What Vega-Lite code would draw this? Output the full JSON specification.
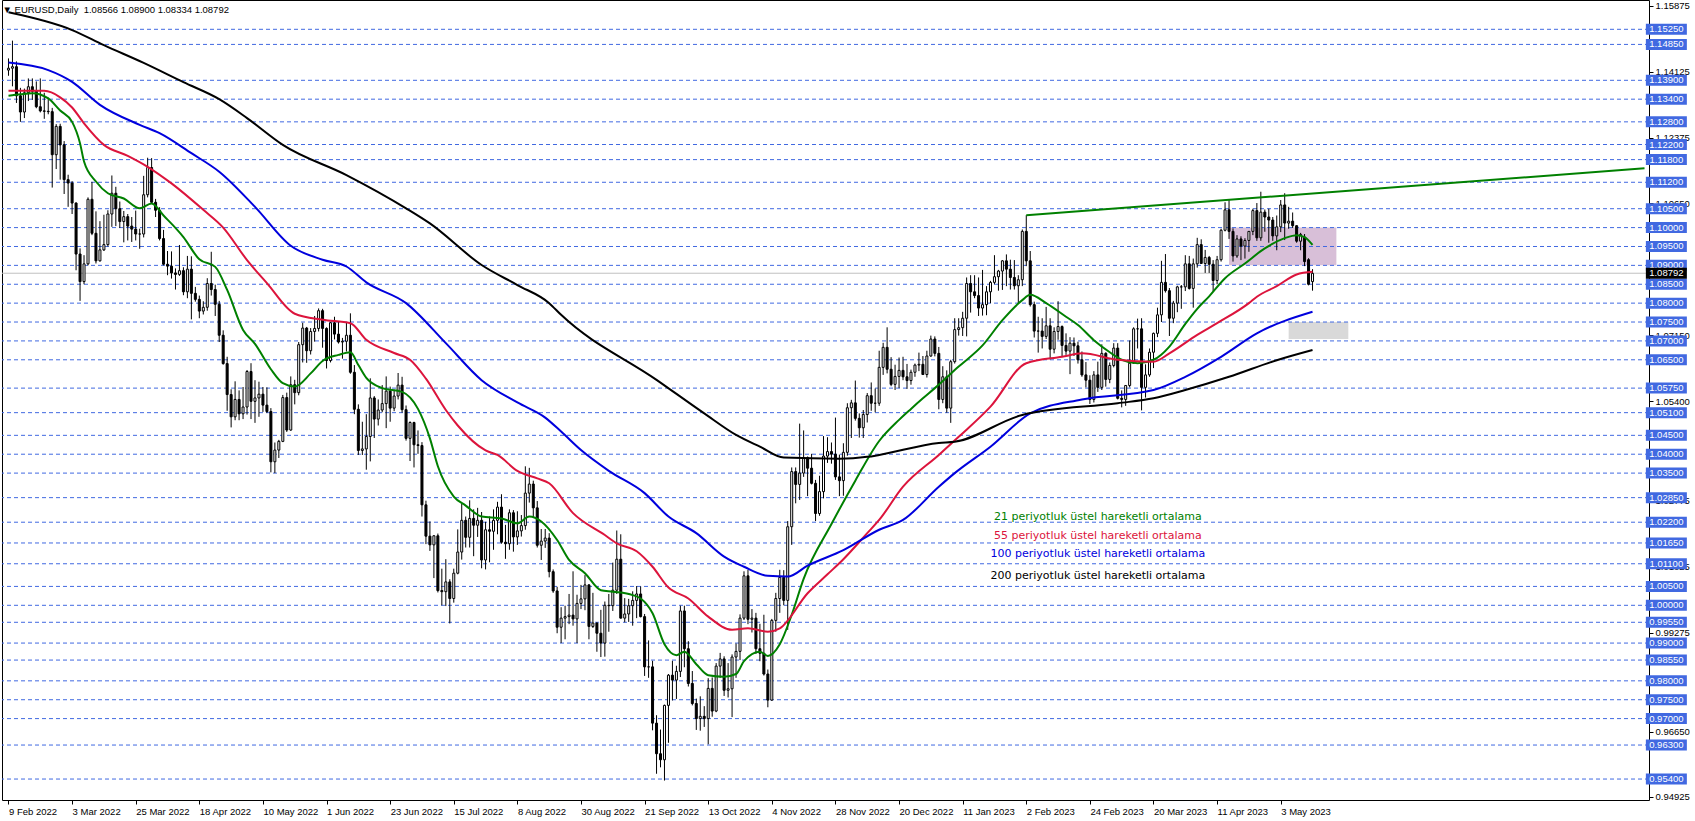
{
"$schema":"https://vega.github.io/schema/vega-lite/v6.json",
"width":1647,"height":800,"autosize":"none",
"padding":{"left":2,"top":0,"right":46,"bottom":21},
"background":"white",
"config":{"view":{"stroke":"#000000","strokeWidth":1},"font":"Liberation Sans"},
"title":{"text":"▼ EURUSD,Daily\u00a0\u00a01.08566 1.08900 1.08334 1.08792","anchor":"start","offset":-24,"dx":1,"fontSize":9.5,"font":"Liberation Sans","fontWeight":"normal","color":"#000000","baseline":"bottom"},
"datasets":{
"levels":[{"p":1.1525},{"p":1.1485},{"p":1.139},{"p":1.134},{"p":1.128},{"p":1.122},{"p":1.118},{"p":1.112},{"p":1.105},{"p":1.1},{"p":1.095},{"p":1.09},{"p":1.085},{"p":1.08},{"p":1.075},{"p":1.07},{"p":1.065},{"p":1.0575},{"p":1.051},{"p":1.045},{"p":1.04},{"p":1.035},{"p":1.0285},{"p":1.022},{"p":1.0165},{"p":1.011},{"p":1.005},{"p":1.0},{"p":0.9955},{"p":0.99},{"p":0.9855},{"p":0.98},{"p":0.975},{"p":0.97},{"p":0.963},{"p":0.954}],
"zones":[{"z":"pink","i1":307,"i2":334,"p1":1.09,"p2":1.1},{"z":"gray","i1":322,"i2":337,"p1":1.0705,"p2":1.075}],
"trend":[{"i":256,"p":1.1033},{"i":411.5,"p":1.1157}],
"notes":[{"s":"21","i":274,"p":1.02345,"t":"21 periyotluk üstel hareketli ortalama"},{"s":"55","i":274,"p":1.01843,"t":"55 periyotluk üstel hareketli ortalama"},{"s":"100","i":274,"p":1.0135,"t":"100 periyotluk üstel hareketli ortalama"},{"s":"200","i":274,"p":1.00768,"t":"200 periyotluk üstel hareketli ortalama"}],
"ema":[
{"s":"21","i":0,"v":1.1349},{"s":"21","i":3,"v":1.1353},{"s":"21","i":6,"v":1.1356},{"s":"21","i":10,"v":1.1342},{"s":"21","i":13,"v":1.131},{"s":"21","i":16,"v":1.128},{"s":"21","i":18,"v":1.1223},{"s":"21","i":19,"v":1.1175},{"s":"21","i":22,"v":1.1122},{"s":"21","i":25,"v":1.1091},{"s":"21","i":29,"v":1.1077},{"s":"21","i":33,"v":1.1051},{"s":"21","i":36,"v":1.1064},{"s":"21","i":39,"v":1.1032},{"s":"21","i":44,"v":1.0975},{"s":"21","i":48,"v":1.0916},{"s":"21","i":52,"v":1.0896},{"s":"21","i":55,"v":1.0835},{"s":"21","i":59,"v":1.0729},{"s":"21","i":62,"v":1.0692},{"s":"21","i":66,"v":1.0625},{"s":"21","i":69,"v":1.0588},{"s":"21","i":72,"v":1.0579},{"s":"21","i":76,"v":1.0614},{"s":"21","i":79,"v":1.0647},{"s":"21","i":83,"v":1.0663},{"s":"21","i":86,"v":1.067},{"s":"21","i":88,"v":1.0636},{"s":"21","i":90,"v":1.0602},{"s":"21","i":94,"v":1.0575},{"s":"21","i":99,"v":1.0565},{"s":"21","i":103,"v":1.052},{"s":"21","i":106,"v":1.0442},{"s":"21","i":108,"v":1.0368},{"s":"21","i":112,"v":1.0288},{"s":"21","i":115,"v":1.0264},{"s":"21","i":119,"v":1.0235},{"s":"21","i":124,"v":1.023},{"s":"21","i":128,"v":1.0217},{"s":"21","i":131,"v":1.0235},{"s":"21","i":134,"v":1.0222},{"s":"21","i":138,"v":1.0173},{"s":"21","i":141,"v":1.012},{"s":"21","i":145,"v":1.0085},{"s":"21","i":149,"v":1.004},{"s":"21","i":152,"v":1.0036},{"s":"21","i":157,"v":1.0027},{"s":"21","i":159,"v":1.0018},{"s":"21","i":162,"v":0.9979},{"s":"21","i":165,"v":0.9897},{"s":"21","i":168,"v":0.9868},{"s":"21","i":170,"v":0.9877},{"s":"21","i":173,"v":0.9844},{"s":"21","i":176,"v":0.9815},{"s":"21","i":180,"v":0.9811},{"s":"21","i":183,"v":0.9818},{"s":"21","i":185,"v":0.9852},{"s":"21","i":189,"v":0.9877},{"s":"21","i":191,"v":0.9866},{"s":"21","i":194,"v":0.9897},{"s":"21","i":197,"v":0.9975},{"s":"21","i":200,"v":1.007},{"s":"21","i":207,"v":1.0215},{"s":"21","i":213,"v":1.033},{"s":"21","i":219,"v":1.0435},{"s":"21","i":224,"v":1.0491},{"s":"21","i":227,"v":1.052},{"s":"21","i":230,"v":1.0548},{"s":"21","i":233,"v":1.0575},{"s":"21","i":239,"v":1.0632},{"s":"21","i":245,"v":1.0688},{"s":"21","i":250,"v":1.0755},{"s":"21","i":255,"v":1.0808},{"s":"21","i":257,"v":1.0822},{"s":"21","i":261,"v":1.08},{"s":"21","i":266,"v":1.0764},{"s":"21","i":269,"v":1.0742},{"s":"21","i":273,"v":1.0702},{"s":"21","i":277,"v":1.067},{"s":"21","i":280,"v":1.065},{"s":"21","i":284,"v":1.0641},{"s":"21","i":288,"v":1.065},{"s":"21","i":292,"v":1.0685},{"s":"21","i":296,"v":1.0745},{"s":"21","i":299,"v":1.0785},{"s":"21","i":302,"v":1.0818},{"s":"21","i":306,"v":1.0866},{"s":"21","i":311,"v":1.0905},{"s":"21","i":316,"v":1.0945},{"s":"21","i":321,"v":1.0972},{"s":"21","i":324,"v":1.098},{"s":"21","i":326,"v":1.0975},{"s":"21","i":328,"v":1.0954},
{"s":"55","i":0,"v":1.1362},{"s":"55","i":9,"v":1.1362},{"s":"55","i":13,"v":1.1345},{"s":"55","i":16,"v":1.1318},{"s":"55","i":19,"v":1.1276},{"s":"55","i":24,"v":1.1219},{"s":"55","i":30,"v":1.119},{"s":"55","i":35,"v":1.1161},{"s":"55","i":41,"v":1.1117},{"s":"55","i":49,"v":1.1047},{"s":"55","i":54,"v":1.1},{"s":"55","i":60,"v":1.0914},{"s":"55","i":65,"v":1.0853},{"s":"55","i":72,"v":1.0772},{"s":"55","i":79,"v":1.0756},{"s":"55","i":86,"v":1.0747},{"s":"55","i":90,"v":1.0703},{"s":"55","i":97,"v":1.0668},{"s":"55","i":101,"v":1.065},{"s":"55","i":105,"v":1.06},{"s":"55","i":110,"v":1.0517},{"s":"55","i":113,"v":1.0476},{"s":"55","i":120,"v":1.041},{"s":"55","i":123,"v":1.0398},{"s":"55","i":128,"v":1.0356},{"s":"55","i":133,"v":1.0336},{"s":"55","i":136,"v":1.0323},{"s":"55","i":142,"v":1.0244},{"s":"55","i":150,"v":1.0186},{"s":"55","i":153,"v":1.0164},{"s":"55","i":158,"v":1.0143},{"s":"55","i":162,"v":1.0102},{"s":"55","i":166,"v":1.0047},{"s":"55","i":171,"v":1.0018},{"s":"55","i":176,"v":0.997},{"s":"55","i":182,"v":0.9935},{"s":"55","i":186,"v":0.9939},{"s":"55","i":191,"v":0.993},{"s":"55","i":194,"v":0.9939},{"s":"55","i":201,"v":1.0032},{"s":"55","i":206,"v":1.0082},{"s":"55","i":210,"v":1.0122},{"s":"55","i":216,"v":1.0191},{"s":"55","i":219,"v":1.0226},{"s":"55","i":225,"v":1.0314},{"s":"55","i":234,"v":1.0398},{"s":"55","i":239,"v":1.0446},{"s":"55","i":247,"v":1.0526},{"s":"55","i":256,"v":1.0641},{"s":"55","i":265,"v":1.0658},{"s":"55","i":270,"v":1.0667},{"s":"55","i":279,"v":1.065},{"s":"55","i":288,"v":1.0645},{"s":"55","i":292,"v":1.0667},{"s":"55","i":299,"v":1.0716},{"s":"55","i":304,"v":1.0747},{"s":"55","i":312,"v":1.08},{"s":"55","i":314,"v":1.0817},{"s":"55","i":319,"v":1.0845},{"s":"55","i":324,"v":1.0876},{"s":"55","i":328,"v":1.0883},
{"s":"100","i":0,"v":1.1437},{"s":"100","i":10,"v":1.1417},{"s":"100","i":16,"v":1.1386},{"s":"100","i":23,"v":1.1325},{"s":"100","i":33,"v":1.1272},{"s":"100","i":38,"v":1.125},{"s":"100","i":46,"v":1.1197},{"s":"100","i":53,"v":1.1148},{"s":"100","i":62,"v":1.1055},{"s":"100","i":71,"v":1.0952},{"s":"100","i":79,"v":1.0915},{"s":"100","i":85,"v":1.0897},{"s":"100","i":90,"v":1.0855},{"s":"100","i":100,"v":1.08},{"s":"100","i":110,"v":1.0694},{"s":"100","i":119,"v":1.0596},{"s":"100","i":128,"v":1.0537},{"s":"100","i":135,"v":1.0497},{"s":"100","i":139,"v":1.046},{"s":"100","i":144,"v":1.0411},{"s":"100","i":151,"v":1.0356},{"s":"100","i":160,"v":1.0297},{"s":"100","i":166,"v":1.0235},{"s":"100","i":173,"v":1.0191},{"s":"100","i":180,"v":1.0129},{"s":"100","i":185,"v":1.0102},{"s":"100","i":191,"v":1.0078},{"s":"100","i":196,"v":1.0076},{"s":"100","i":201,"v":1.0105},{"s":"100","i":210,"v":1.0146},{"s":"100","i":219,"v":1.02},{"s":"100","i":225,"v":1.0226},{"s":"100","i":234,"v":1.0314},{"s":"100","i":238,"v":1.035},{"s":"100","i":247,"v":1.042},{"s":"100","i":257,"v":1.0508},{"s":"100","i":270,"v":1.0545},{"s":"100","i":288,"v":1.057},{"s":"100","i":296,"v":1.0605},{"s":"100","i":305,"v":1.0658},{"s":"100","i":314,"v":1.072},{"s":"100","i":328,"v":1.0777},
{"s":"200","i":0,"v":1.157},{"s":"200","i":16,"v":1.1523},{"s":"200","i":24,"v":1.1483},{"s":"200","i":34,"v":1.1436},{"s":"200","i":44,"v":1.1385},{"s":"200","i":53,"v":1.134},{"s":"200","i":60,"v":1.129},{"s":"200","i":69,"v":1.1219},{"s":"200","i":85,"v":1.1139},{"s":"200","i":100,"v":1.1051},{"s":"200","i":106,"v":1.1011},{"s":"200","i":119,"v":1.0901},{"s":"200","i":128,"v":1.0848},{"s":"200","i":136,"v":1.08},{"s":"200","i":139,"v":1.0769},{"s":"200","i":163,"v":1.0597},{"s":"200","i":175,"v":1.0508},{"s":"200","i":183,"v":1.0451},{"s":"200","i":189,"v":1.042},{"s":"200","i":195,"v":1.0391},{"s":"200","i":209,"v":1.0388},{"s":"200","i":216,"v":1.0393},{"s":"200","i":219,"v":1.0398},{"s":"200","i":234,"v":1.043},{"s":"200","i":238,"v":1.0433},{"s":"200","i":255,"v":1.0504},{"s":"200","i":279,"v":1.0535},{"s":"200","i":288,"v":1.0548},{"s":"200","i":296,"v":1.057},{"s":"200","i":307,"v":1.0605},{"s":"200","i":319,"v":1.0649},{"s":"200","i":328,"v":1.0676}],
"candles":[
{"i":0,"o":1.1417,"h":1.1448,"l":1.1402,"c":1.1422},{"i":1,"o":1.1422,"h":1.1495,"l":1.1374,"c":1.1426},{"i":2,"o":1.1426,"h":1.144,"l":1.133,"c":1.1349},{"i":3,"o":1.1349,"h":1.137,"l":1.128,"c":1.1306},{"i":4,"o":1.1306,"h":1.1368,"l":1.129,"c":1.1357},{"i":5,"o":1.1357,"h":1.1395,"l":1.1335,"c":1.1373},{"i":6,"o":1.1373,"h":1.1395,"l":1.1338,"c":1.1361},{"i":7,"o":1.1361,"h":1.1387,"l":1.1316,"c":1.132},{"i":8,"o":1.132,"h":1.1395,"l":1.1305,"c":1.1309},{"i":9,"o":1.1309,"h":1.1357,"l":1.1288,"c":1.1308},{"i":10,"o":1.1308,"h":1.1344,"l":1.13,"c":1.1307},{"i":11,"o":1.1307,"h":1.1317,"l":1.1106,"c":1.1193},{"i":12,"o":1.1193,"h":1.1274,"l":1.1155,"c":1.1268},{"i":13,"o":1.1268,"h":1.1275,"l":1.1127,"c":1.1219},
{"i":14,"o":1.1219,"h":1.1229,"l":1.1089,"c":1.1127},{"i":15,"o":1.1127,"h":1.114,"l":1.1055,"c":1.1118},{"i":16,"o":1.1118,"h":1.1123,"l":1.1036,"c":1.1065},{"i":17,"o":1.1065,"h":1.1067,"l":1.0887,"c":1.093},{"i":18,"o":1.093,"h":1.0945,"l":1.0806,"c":1.0857},{"i":19,"o":1.0857,"h":1.0927,"l":1.085,"c":1.0904},{"i":20,"o":1.0904,"h":1.108,"l":1.09,"c":1.1075},{"i":21,"o":1.1075,"h":1.1121,"l":1.098,"c":1.0985},{"i":22,"o":1.0985,"h":1.1043,"l":1.0905,"c":1.0912},{"i":23,"o":1.0912,"h":1.1017,"l":1.091,"c":1.0941},{"i":24,"o":1.0941,"h":1.1034,"l":1.0938,"c":1.0955},{"i":25,"o":1.0955,"h":1.1046,"l":1.095,"c":1.1036},{"i":26,"o":1.1036,"h":1.1138,"l":1.1002,"c":1.1091},{"i":27,"o":1.1091,"h":1.1108,"l":1.1004,"c":1.105},{"i":28,"o":1.105,"h":1.1069,"l":1.0999,"c":1.1016},{"i":29,"o":1.1016,"h":1.1044,"l":1.0961,"c":1.1029},{"i":30,"o":1.1029,"h":1.1036,"l":1.0966,"c":1.1004},{"i":31,"o":1.1004,"h":1.1028,"l":1.0962,"c":1.0996},{"i":32,"o":1.0996,"h":1.1045,"l":1.0966,"c":1.0983},{"i":33,"o":1.0983,"h":1.0997,"l":1.0944,"c":1.0983},{"i":34,"o":1.0983,"h":1.1137,"l":1.0974,"c":1.1087},{"i":35,"o":1.1087,"h":1.1185,"l":1.108,"c":1.1159},{"i":36,"o":1.1159,"h":1.1184,"l":1.1063,"c":1.1067},
{"i":37,"o":1.1067,"h":1.1076,"l":1.1028,"c":1.1046},{"i":38,"o":1.1046,"h":1.1054,"l":1.0966,"c":1.0971},{"i":39,"o":1.0971,"h":1.0994,"l":1.09,"c":1.0903},{"i":40,"o":1.0903,"h":1.0938,"l":1.0874,"c":1.0898},{"i":41,"o":1.0898,"h":1.0937,"l":1.0865,"c":1.088},{"i":42,"o":1.088,"h":1.0892,"l":1.0836,"c":1.0876},{"i":43,"o":1.0876,"h":1.0954,"l":1.0872,"c":1.0886},{"i":44,"o":1.0886,"h":1.0895,"l":1.0821,"c":1.083},{"i":45,"o":1.083,"h":1.0925,"l":1.0813,"c":1.089},{"i":46,"o":1.089,"h":1.0924,"l":1.0757,"c":1.0826},{"i":47,"o":1.0826,"h":1.0843,"l":1.0804,"c":1.081},{"i":48,"o":1.081,"h":1.082,"l":1.076,"c":1.0779},{"i":49,"o":1.0779,"h":1.0805,"l":1.077,"c":1.0789},{"i":50,"o":1.0789,"h":1.0866,"l":1.078,"c":1.0852},{"i":51,"o":1.0852,"h":1.0936,"l":1.082,"c":1.0836},{"i":52,"o":1.0836,"h":1.0849,"l":1.0766,"c":1.0797},{"i":53,"o":1.0797,"h":1.0806,"l":1.0697,"c":1.0715},{"i":54,"o":1.0715,"h":1.0728,"l":1.0637,"c":1.064},{"i":55,"o":1.064,"h":1.0658,"l":1.0515,"c":1.0558},{"i":56,"o":1.0558,"h":1.0572,"l":1.0471,"c":1.0499},{"i":57,"o":1.0499,"h":1.0593,"l":1.049,"c":1.0545},
{"i":58,"o":1.0545,"h":1.0569,"l":1.049,"c":1.0507},{"i":59,"o":1.0507,"h":1.0578,"l":1.0493,"c":1.0525},{"i":60,"o":1.0525,"h":1.0623,"l":1.0505,"c":1.0619},{"i":61,"o":1.0619,"h":1.0641,"l":1.0493,"c":1.054},{"i":62,"o":1.054,"h":1.0596,"l":1.0483,"c":1.0549},{"i":63,"o":1.0549,"h":1.0592,"l":1.0499,"c":1.0559},{"i":64,"o":1.0559,"h":1.0578,"l":1.0512,"c":1.053},{"i":65,"o":1.053,"h":1.0577,"l":1.0509,"c":1.0513},{"i":66,"o":1.0513,"h":1.0522,"l":1.0352,"c":1.038},{"i":67,"o":1.038,"h":1.0431,"l":1.035,"c":1.0411},{"i":68,"o":1.0411,"h":1.0438,"l":1.039,"c":1.0434},{"i":69,"o":1.0434,"h":1.0557,"l":1.0432,"c":1.055},{"i":70,"o":1.055,"h":1.0563,"l":1.0459,"c":1.0464},{"i":71,"o":1.0464,"h":1.0606,"l":1.0462,"c":1.0584},{"i":72,"o":1.0584,"h":1.0597,"l":1.0532,"c":1.0563},{"i":73,"o":1.0563,"h":1.0697,"l":1.0556,"c":1.069},{"i":74,"o":1.069,"h":1.0748,"l":1.0643,"c":1.0734},{"i":75,"o":1.0734,"h":1.0737,"l":1.0642,"c":1.0674},{"i":76,"o":1.0674,"h":1.0734,"l":1.0664,"c":1.0725},{"i":77,"o":1.0725,"h":1.0766,"l":1.0698,"c":1.0733},{"i":78,"o":1.0733,"h":1.0786,"l":1.0725,"c":1.078},{"i":79,"o":1.078,"h":1.0785,"l":1.0682,"c":1.0733},
{"i":80,"o":1.0733,"h":1.0736,"l":1.0627,"c":1.0648},{"i":81,"o":1.0648,"h":1.075,"l":1.0643,"c":1.0748},{"i":82,"o":1.0748,"h":1.0764,"l":1.0704,"c":1.0718},{"i":83,"o":1.0718,"h":1.0752,"l":1.0693,"c":1.0697},{"i":84,"o":1.0697,"h":1.0708,"l":1.0653,"c":1.0699},{"i":85,"o":1.0699,"h":1.0748,"l":1.0672,"c":1.0715},{"i":86,"o":1.0715,"h":1.0773,"l":1.0613,"c":1.0617},{"i":87,"o":1.0617,"h":1.0636,"l":1.0506,"c":1.0519},{"i":88,"o":1.0519,"h":1.0532,"l":1.0398,"c":1.041},{"i":89,"o":1.041,"h":1.0486,"l":1.0398,"c":1.0414},{"i":90,"o":1.0414,"h":1.0506,"l":1.0359,"c":1.0447},{"i":91,"o":1.0447,"h":1.0601,"l":1.0381,"c":1.0549},{"i":92,"o":1.0549,"h":1.0554,"l":1.0443,"c":1.0493},{"i":93,"o":1.0493,"h":1.0545,"l":1.0476,"c":1.0517},{"i":94,"o":1.0517,"h":1.0583,"l":1.0511,"c":1.0534},{"i":95,"o":1.0534,"h":1.0606,"l":1.0469,"c":1.0567},{"i":96,"o":1.0567,"h":1.0579,"l":1.0486,"c":1.0522},{"i":97,"o":1.0522,"h":1.0571,"l":1.0514,"c":1.0554},{"i":98,"o":1.0554,"h":1.0615,"l":1.0545,"c":1.0583},{"i":99,"o":1.0583,"h":1.0605,"l":1.051,"c":1.0518},{"i":100,"o":1.0518,"h":1.0529,"l":1.0436,"c":1.0442},{"i":101,"o":1.0442,"h":1.0487,"l":1.0382,"c":1.0484},
{"i":102,"o":1.0484,"h":1.0486,"l":1.0365,"c":1.0425},{"i":103,"o":1.0425,"h":1.0463,"l":1.0401,"c":1.0423},{"i":104,"o":1.0423,"h":1.0432,"l":1.0235,"c":1.0266},{"i":105,"o":1.0266,"h":1.0277,"l":1.0162,"c":1.0183},{"i":106,"o":1.0183,"h":1.0222,"l":1.0144,"c":1.016},{"i":107,"o":1.016,"h":1.0186,"l":1.0072,"c":1.0184},{"i":108,"o":1.0184,"h":1.019,"l":1.0034,"c":1.0039},{"i":109,"o":1.0039,"h":1.0097,"l":1.0,"c":1.0036},{"i":110,"o":1.0036,"h":1.0122,"l":0.9998,"c":1.0062},{"i":111,"o":1.0062,"h":1.0069,"l":0.9952,"c":1.0018},{"i":112,"o":1.0018,"h":1.0097,"l":1.0007,"c":1.0085},{"i":113,"o":1.0085,"h":1.0201,"l":1.0082,"c":1.0141},{"i":114,"o":1.0141,"h":1.0269,"l":1.0121,"c":1.0225},{"i":115,"o":1.0225,"h":1.0235,"l":1.0153,"c":1.018},{"i":116,"o":1.018,"h":1.0278,"l":1.0153,"c":1.023},{"i":117,"o":1.023,"h":1.0254,"l":1.013,"c":1.0212},{"i":118,"o":1.0212,"h":1.0258,"l":1.0181,"c":1.0225},{"i":119,"o":1.0225,"h":1.0247,"l":1.0098,"c":1.012},{"i":120,"o":1.012,"h":1.0221,"l":1.0095,"c":1.02},{"i":121,"o":1.02,"h":1.0235,"l":1.0114,"c":1.0196},{"i":122,"o":1.0196,"h":1.0254,"l":1.0147,"c":1.0225},
{"i":123,"o":1.0225,"h":1.0274,"l":1.0188,"c":1.026},{"i":124,"o":1.026,"h":1.0294,"l":1.0163,"c":1.0167},{"i":125,"o":1.0167,"h":1.0213,"l":1.0123,"c":1.0163},{"i":126,"o":1.0163,"h":1.0254,"l":1.0147,"c":1.0245},{"i":127,"o":1.0245,"h":1.0252,"l":1.0142,"c":1.0181},{"i":128,"o":1.0181,"h":1.0249,"l":1.016,"c":1.0197},{"i":129,"o":1.0197,"h":1.0239,"l":1.0182,"c":1.0211},{"i":130,"o":1.0211,"h":1.0368,"l":1.02,"c":1.0297},{"i":131,"o":1.0297,"h":1.0364,"l":1.0272,"c":1.0321},{"i":132,"o":1.0321,"h":1.033,"l":1.0233,"c":1.0258},{"i":133,"o":1.0258,"h":1.0276,"l":1.0153,"c":1.0159},{"i":134,"o":1.0159,"h":1.0202,"l":1.012,"c":1.017},{"i":135,"o":1.017,"h":1.0202,"l":1.0152,"c":1.0178},{"i":136,"o":1.0178,"h":1.0191,"l":1.0074,"c":1.0089},{"i":137,"o":1.0089,"h":1.0095,"l":1.0033,"c":1.0038},{"i":138,"o":1.0038,"h":1.0049,"l":0.9926,"c":0.9942},{"i":139,"o":0.9942,"h":0.9995,"l":0.99,"c":0.9966},{"i":140,"o":0.9966,"h":0.9999,"l":0.991,"c":0.997},{"i":141,"o":0.997,"h":1.003,"l":0.995,"c":0.9974},{"i":142,"o":0.9974,"h":1.009,"l":0.9946,"c":0.9964},{"i":143,"o":0.9964,"h":1.0028,"l":0.99,"c":1.0005},{"i":144,"o":1.0005,"h":1.0054,"l":0.999,"c":1.0017},{"i":145,"o":1.0017,"h":1.008,"l":0.9987,"c":1.0054},
{"i":146,"o":1.0054,"h":1.0056,"l":0.991,"c":0.9944},{"i":147,"o":0.9944,"h":1.0033,"l":0.994,"c":0.9953},{"i":148,"o":0.9953,"h":0.9955,"l":0.9877,"c":0.9926},{"i":149,"o":0.9926,"h":0.9988,"l":0.9863,"c":0.99},{"i":150,"o":0.99,"h":1.001,"l":0.9864,"c":1.0},{"i":151,"o":1.0,"h":1.003,"l":0.993,"c":0.9999},{"i":152,"o":0.9999,"h":1.0113,"l":0.9985,"c":1.004},{"i":153,"o":1.004,"h":1.0198,"l":1.003,"c":1.0122},{"i":154,"o":1.0122,"h":1.0188,"l":0.9965,"c":0.9966},{"i":155,"o":0.9966,"h":1.0019,"l":0.9955,"c":0.9977},{"i":156,"o":0.9977,"h":1.0017,"l":0.9956,"c":0.9999},{"i":157,"o":0.9999,"h":1.0037,"l":0.9946,"c":1.0013},{"i":158,"o":1.0013,"h":1.0051,"l":0.9966,"c":1.003},{"i":159,"o":1.003,"h":1.005,"l":0.9968,"c":0.997},{"i":160,"o":0.997,"h":0.9977,"l":0.9813,"c":0.9837},{"i":161,"o":0.9837,"h":0.9907,"l":0.9808,"c":0.9837},{"i":162,"o":0.9837,"h":0.9853,"l":0.9669,"c":0.9688},{"i":163,"o":0.9688,"h":0.9709,"l":0.9554,"c":0.9607},{"i":164,"o":0.9607,"h":0.9671,"l":0.9571,"c":0.9591},{"i":165,"o":0.9591,"h":0.9737,"l":0.9536,"c":0.9735},{"i":166,"o":0.9735,"h":0.9818,"l":0.9636,"c":0.9815},{"i":167,"o":0.9815,"h":0.9853,"l":0.9748,"c":0.9802},
{"i":168,"o":0.9802,"h":0.984,"l":0.9752,"c":0.9825},{"i":169,"o":0.9825,"h":0.9999,"l":0.981,"c":0.9985},{"i":170,"o":0.9985,"h":0.9999,"l":0.9836,"c":0.9885},{"i":171,"o":0.9885,"h":0.9905,"l":0.9785,"c":0.9793},{"i":172,"o":0.9793,"h":0.9826,"l":0.9735,"c":0.974},{"i":173,"o":0.974,"h":0.9753,"l":0.967,"c":0.97},{"i":174,"o":0.97,"h":0.9759,"l":0.9668,"c":0.9706},{"i":175,"o":0.9706,"h":0.9733,"l":0.9678,"c":0.97},{"i":176,"o":0.97,"h":0.9807,"l":0.9632,"c":0.978},{"i":177,"o":0.978,"h":0.9809,"l":0.9705,"c":0.972},{"i":178,"o":0.972,"h":0.9847,"l":0.9717,"c":0.9839},{"i":179,"o":0.9839,"h":0.9874,"l":0.9808,"c":0.9858},{"i":180,"o":0.9858,"h":0.9865,"l":0.976,"c":0.9775},{"i":181,"o":0.9775,"h":0.9847,"l":0.9756,"c":0.9779},{"i":182,"o":0.9779,"h":0.987,"l":0.9704,"c":0.9863},{"i":183,"o":0.9863,"h":0.9899,"l":0.9808,"c":0.9878},{"i":184,"o":0.9878,"h":0.9976,"l":0.9855,"c":0.9966},{"i":185,"o":0.9966,"h":1.009,"l":0.9961,"c":1.0078},{"i":186,"o":1.0078,"h":1.0094,"l":0.995,"c":0.9963},{"i":187,"o":0.9963,"h":0.999,"l":0.9928,"c":0.9966},{"i":188,"o":0.9966,"h":0.998,"l":0.9871,"c":0.9885},
{"i":189,"o":0.9885,"h":0.9951,"l":0.9852,"c":0.9873},{"i":190,"o":0.9873,"h":0.9975,"l":0.9814,"c":0.9818},{"i":191,"o":0.9818,"h":0.983,"l":0.973,"c":0.9749},{"i":192,"o":0.9749,"h":0.9964,"l":0.9747,"c":0.996},{"i":193,"o":0.996,"h":1.0033,"l":0.993,"c":1.0018},{"i":194,"o":1.0018,"h":1.0094,"l":0.998,"c":1.0074},{"i":195,"o":1.0074,"h":1.0093,"l":1.0,"c":1.0013},{"i":196,"o":1.0013,"h":1.0223,"l":0.9935,"c":1.0208},{"i":197,"o":1.0208,"h":1.0365,"l":1.016,"c":1.0354},{"i":198,"o":1.0354,"h":1.0365,"l":1.027,"c":1.032},{"i":199,"o":1.032,"h":1.0481,"l":1.0279,"c":1.035},{"i":200,"o":1.035,"h":1.0463,"l":1.034,"c":1.0391},{"i":201,"o":1.0391,"h":1.0394,"l":1.0289,"c":1.0363},{"i":202,"o":1.0363,"h":1.0401,"l":1.032,"c":1.0323},{"i":203,"o":1.0323,"h":1.0332,"l":1.0223,"c":1.0243},{"i":204,"o":1.0243,"h":1.0343,"l":1.0237,"c":1.0301},{"i":205,"o":1.0301,"h":1.0448,"l":1.0283,"c":1.0395},{"i":206,"o":1.0395,"h":1.0445,"l":1.0377,"c":1.0407},{"i":207,"o":1.0407,"h":1.0431,"l":1.0375,"c":1.04},{"i":208,"o":1.04,"h":1.0497,"l":1.0332,"c":1.034},{"i":209,"o":1.034,"h":1.0399,"l":1.0289,"c":1.033},{"i":210,"o":1.033,"h":1.0429,"l":1.029,"c":1.0405},
{"i":211,"o":1.0405,"h":1.0535,"l":1.0396,"c":1.0523},{"i":212,"o":1.0523,"h":1.0544,"l":1.0443,"c":1.0536},{"i":213,"o":1.0536,"h":1.0595,"l":1.0489,"c":1.0495},{"i":214,"o":1.0495,"h":1.0508,"l":1.0444,"c":1.047},{"i":215,"o":1.047,"h":1.0517,"l":1.0443,"c":1.0505},{"i":216,"o":1.0505,"h":1.0562,"l":1.0484,"c":1.0555},{"i":217,"o":1.0555,"h":1.059,"l":1.0515,"c":1.0535},{"i":218,"o":1.0535,"h":1.0574,"l":1.0511,"c":1.0535},{"i":219,"o":1.0535,"h":1.0674,"l":1.0528,"c":1.063},{"i":220,"o":1.063,"h":1.0695,"l":1.061,"c":1.0683},{"i":221,"o":1.0683,"h":1.0736,"l":1.0614,"c":1.0625},{"i":222,"o":1.0625,"h":1.0657,"l":1.058,"c":1.0585},{"i":223,"o":1.0585,"h":1.0637,"l":1.057,"c":1.0606},{"i":224,"o":1.0606,"h":1.0656,"l":1.0575,"c":1.0622},{"i":225,"o":1.0622,"h":1.0658,"l":1.0596,"c":1.0605},{"i":226,"o":1.0605,"h":1.0639,"l":1.0573,"c":1.0595},{"i":227,"o":1.0595,"h":1.0624,"l":1.0584,"c":1.0617},{"i":228,"o":1.0617,"h":1.064,"l":1.0605,"c":1.0636},{"i":229,"o":1.0636,"h":1.0669,"l":1.062,"c":1.0638},{"i":230,"o":1.0638,"h":1.066,"l":1.061,"c":1.0611},{"i":231,"o":1.0611,"h":1.0674,"l":1.0603,"c":1.066},{"i":232,"o":1.066,"h":1.0714,"l":1.0658,"c":1.0705},
{"i":233,"o":1.0705,"h":1.0712,"l":1.0659,"c":1.0667},{"i":234,"o":1.0667,"h":1.0684,"l":1.0519,"c":1.0545},{"i":235,"o":1.0545,"h":1.0633,"l":1.0535,"c":1.0605},{"i":236,"o":1.0605,"h":1.0622,"l":1.051,"c":1.0522},{"i":237,"o":1.0522,"h":1.065,"l":1.0483,"c":1.0645},{"i":238,"o":1.0645,"h":1.076,"l":1.064,"c":1.073},{"i":239,"o":1.073,"h":1.076,"l":1.0714,"c":1.0735},{"i":240,"o":1.0735,"h":1.0777,"l":1.0713,"c":1.076},{"i":241,"o":1.076,"h":1.0868,"l":1.0712,"c":1.0852},{"i":242,"o":1.0852,"h":1.0874,"l":1.0775,"c":1.083},{"i":243,"o":1.083,"h":1.0874,"l":1.0813,"c":1.082},{"i":244,"o":1.082,"h":1.0868,"l":1.0766,"c":1.0787},{"i":245,"o":1.0787,"h":1.0888,"l":1.0767,"c":1.0796},{"i":246,"o":1.0796,"h":1.0845,"l":1.0768,"c":1.083},{"i":247,"o":1.083,"h":1.0859,"l":1.08,"c":1.0855},{"i":248,"o":1.0855,"h":1.0927,"l":1.085,"c":1.087},{"i":249,"o":1.087,"h":1.0888,"l":1.0833,"c":1.0885},{"i":250,"o":1.0885,"h":1.0914,"l":1.0835,"c":1.0912},{"i":251,"o":1.0912,"h":1.0929,"l":1.0845,"c":1.089},{"i":252,"o":1.089,"h":1.0915,"l":1.0836,"c":1.0868},{"i":253,"o":1.0868,"h":1.0914,"l":1.0836,"c":1.0846},{"i":254,"o":1.0846,"h":1.0874,"l":1.08,"c":1.0862},
{"i":255,"o":1.0862,"h":1.0995,"l":1.0845,"c":1.099},{"i":256,"o":1.099,"h":1.1033,"l":1.0898,"c":1.0912},{"i":257,"o":1.0912,"h":1.0938,"l":1.0791,"c":1.0796},{"i":258,"o":1.0796,"h":1.0804,"l":1.0709,"c":1.0726},{"i":259,"o":1.0726,"h":1.0764,"l":1.0669,"c":1.0726},{"i":260,"o":1.0726,"h":1.076,"l":1.068,"c":1.0712},{"i":261,"o":1.0712,"h":1.079,"l":1.0705,"c":1.074},{"i":262,"o":1.074,"h":1.076,"l":1.0651,"c":1.0678},{"i":263,"o":1.0678,"h":1.0736,"l":1.0667,"c":1.0725},{"i":264,"o":1.0725,"h":1.0805,"l":1.0703,"c":1.0738},{"i":265,"o":1.0738,"h":1.0741,"l":1.0658,"c":1.0688},{"i":266,"o":1.0688,"h":1.072,"l":1.0663,"c":1.0673},{"i":267,"o":1.0673,"h":1.071,"l":1.0612,"c":1.0694},{"i":268,"o":1.0694,"h":1.0709,"l":1.066,"c":1.0687},{"i":269,"o":1.0687,"h":1.0698,"l":1.064,"c":1.065},{"i":270,"o":1.065,"h":1.0672,"l":1.0605,"c":1.061},{"i":271,"o":1.061,"h":1.0644,"l":1.0577,"c":1.0596},{"i":272,"o":1.0596,"h":1.0609,"l":1.0533,"c":1.0545},{"i":273,"o":1.0545,"h":1.062,"l":1.0537,"c":1.061},{"i":274,"o":1.061,"h":1.0645,"l":1.0565,"c":1.0577},
{"i":275,"o":1.0577,"h":1.0691,"l":1.057,"c":1.0667},{"i":276,"o":1.0667,"h":1.067,"l":1.0579,"c":1.0598},{"i":277,"o":1.0598,"h":1.0643,"l":1.0588,"c":1.0635},{"i":278,"o":1.0635,"h":1.0694,"l":1.063,"c":1.0681},{"i":279,"o":1.0681,"h":1.0694,"l":1.0545,"c":1.0548},{"i":280,"o":1.0548,"h":1.0569,"l":1.0524,"c":1.0545},{"i":281,"o":1.0545,"h":1.0583,"l":1.0528,"c":1.0582},{"i":282,"o":1.0582,"h":1.0701,"l":1.0577,"c":1.0641},{"i":283,"o":1.0641,"h":1.0736,"l":1.064,"c":1.0732},{"i":284,"o":1.0732,"h":1.0759,"l":1.068,"c":1.0732},{"i":285,"o":1.0732,"h":1.076,"l":1.0516,"c":1.0577},{"i":286,"o":1.0577,"h":1.0638,"l":1.055,"c":1.061},{"i":287,"o":1.061,"h":1.068,"l":1.0605,"c":1.067},{"i":288,"o":1.067,"h":1.0722,"l":1.0628,"c":1.072},{"i":289,"o":1.072,"h":1.0788,"l":1.071,"c":1.0769},{"i":290,"o":1.0769,"h":1.0912,"l":1.075,"c":1.0855},{"i":291,"o":1.0855,"h":1.093,"l":1.0828,"c":1.0833},{"i":292,"o":1.0833,"h":1.084,"l":1.0713,"c":1.076},{"i":293,"o":1.076,"h":1.0806,"l":1.0747,"c":1.08},{"i":294,"o":1.08,"h":1.0846,"l":1.0776,"c":1.0843},{"i":295,"o":1.0843,"h":1.0848,"l":1.0785,"c":1.0843},{"i":296,"o":1.0843,"h":1.0927,"l":1.0832,"c":1.0904},{"i":297,"o":1.0904,"h":1.0925,"l":1.0836,"c":1.0839},
{"i":298,"o":1.0839,"h":1.0918,"l":1.0788,"c":1.0904},{"i":299,"o":1.0904,"h":1.0973,"l":1.0894,"c":1.0955},{"i":300,"o":1.0955,"h":1.0969,"l":1.0906,"c":1.0905},{"i":301,"o":1.0905,"h":1.0941,"l":1.088,"c":1.0921},{"i":302,"o":1.0921,"h":1.0925,"l":1.088,"c":1.0903},{"i":303,"o":1.0903,"h":1.0914,"l":1.0831,"c":1.086},{"i":304,"o":1.086,"h":1.0925,"l":1.085,"c":1.0915},{"i":305,"o":1.0915,"h":1.0997,"l":1.091,"c":1.0993},{"i":306,"o":1.0993,"h":1.1067,"l":1.099,"c":1.1047},{"i":307,"o":1.1047,"h":1.1075,"l":1.097,"c":1.099},{"i":308,"o":1.099,"h":1.0998,"l":1.091,"c":1.0925},{"i":309,"o":1.0925,"h":1.098,"l":1.092,"c":1.097},{"i":310,"o":1.097,"h":1.0977,"l":1.0914,"c":1.0951},{"i":311,"o":1.0951,"h":1.0972,"l":1.0918,"c":1.0966},{"i":312,"o":1.0966,"h":1.0991,"l":1.0936,"c":1.099},{"i":313,"o":1.099,"h":1.105,"l":1.098,"c":1.1045},{"i":314,"o":1.1045,"h":1.1065,"l":1.0965,"c":1.0973},{"i":315,"o":1.0973,"h":1.1095,"l":1.0965,"c":1.1041},{"i":316,"o":1.1041,"h":1.1048,"l":1.0989,"c":1.1028},{"i":317,"o":1.1028,"h":1.105,"l":1.096,"c":1.102},
{"i":318,"o":1.102,"h":1.1028,"l":1.0965,"c":1.0978},{"i":319,"o":1.0978,"h":1.1032,"l":1.094,"c":1.1002},{"i":320,"o":1.1002,"h":1.1073,"l":1.0988,"c":1.106},{"i":321,"o":1.106,"h":1.1091,"l":1.0967,"c":1.1012},{"i":322,"o":1.1012,"h":1.1055,"l":1.0997,"c":1.1017},{"i":323,"o":1.1017,"h":1.104,"l":1.0999,"c":1.1005},{"i":324,"o":1.1005,"h":1.1006,"l":1.096,"c":1.0964},{"i":325,"o":1.0964,"h":1.0986,"l":1.094,"c":1.0982},{"i":326,"o":1.0975,"h":1.0983,"l":1.0898,"c":1.091},{"i":327,"o":1.0915,"h":1.0919,"l":1.0847,"c":1.085},{"i":328,"o":1.0857,"h":1.089,"l":1.0833,"c":1.0879}]
},
"layer":[
{"data":{"name":"zones"},"mark":{"type":"rect"},
 "encoding":{
  "x":{"field":"i1","type":"quantitative","title":null,"scale":{"domain":[-0.375,411.375],"nice":false,"zero":false},
   "axis":{"orient":"bottom","values":[0,16,32,48,64,80,96,112,128,144,160,176,192,208,224,240,256,272,288,304,320],
    "labelExpr":"['9 Feb 2022','3 Mar 2022','25 Mar 2022','18 Apr 2022','10 May 2022','1 Jun 2022','23 Jun 2022','15 Jul 2022','8 Aug 2022','30 Aug 2022','21 Sep 2022','13 Oct 2022','4 Nov 2022','28 Nov 2022','20 Dec 2022','11 Jan 2023','2 Feb 2023','24 Feb 2023','20 Mar 2023','11 Apr 2023','3 May 2023'][round(datum.value/16)]",
    "labelAlign":"left","labelBaseline":"top","labelPadding":2,"labelFlush":false,"labelOverlap":false,"labelFont":"Liberation Sans","labelFontSize":9.5,"labelColor":"#000000","tickColor":"#000000","tickSize":4,"domain":false,"grid":false,"title":null}},
  "x2":{"field":"i2"},
  "y":{"field":"p1","type":"quantitative","title":null,"scale":{"domain":[0.94845,1.16026],"nice":false,"zero":false},
   "axis":{"orient":"right","values":[1.15875,1.15,1.14125,1.1325,1.12375,1.115,1.1065,1.09775,1.0715,1.06275,1.054,1.0365,1.02775,1.019,1.01025,1.0015,0.99275,0.984,0.9665,0.958,0.94925],
    "format":".5f","labelFont":"Liberation Sans","labelFontSize":9.5,"labelColor":"#000000","tickColor":"#000000","tickSize":4,"labelPadding":2,"labelOverlap":false,"labelFlush":false,"domain":false,"grid":false,"title":null}},
  "y2":{"field":"p2"},
  "fill":{"field":"z","type":"nominal","scale":{"domain":["pink","gray"],"range":["#D8BFD8","#D9D9D9"]},"legend":null}}},
{"data":{"name":"levels"},"mark":{"type":"rule","color":"#4169E1","strokeWidth":1,"strokeDash":[4,3]},
 "encoding":{"y":{"field":"p","type":"quantitative","title":null}}},
{"data":{"values":[{"p":1.08792}]},"mark":{"type":"rule","color":"#C0C0C0","strokeWidth":1},
 "encoding":{"y":{"field":"p","type":"quantitative","title":null}}},
{"data":{"name":"candles"},"mark":{"type":"rule","color":"#000000","strokeWidth":1},
 "encoding":{"x":{"field":"i","type":"quantitative","title":null},"y":{"field":"l","type":"quantitative","title":null},"y2":{"field":"h"}}},
{"data":{"name":"candles"},"mark":{"type":"bar","width":2,"strokeWidth":1,"stroke":"#000000"},
 "encoding":{"x":{"field":"i","type":"quantitative","title":null},"y":{"field":"o","type":"quantitative","title":null},"y2":{"field":"c"},
  "fill":{"condition":{"test":"datum.c >= datum.o","value":"#FFFFFF"},"value":"#000000"}}},
{"data":{"name":"ema"},"mark":{"type":"line","strokeWidth":2,"interpolate":"monotone"},
 "encoding":{"x":{"field":"i","type":"quantitative","title":null},"y":{"field":"v","type":"quantitative","title":null},
  "color":{"field":"s","type":"nominal","scale":{"domain":["21","55","100","200"],"range":["#008000","#DC143C","#0000DD","#000000"]},"legend":null},
  "detail":{"field":"s"}}},
{"data":{"name":"trend"},"mark":{"type":"line","strokeWidth":2,"color":"#008000"},
 "encoding":{"x":{"field":"i","type":"quantitative","title":null},"y":{"field":"p","type":"quantitative","title":null}}},
{"data":{"name":"notes"},"mark":{"type":"text","font":"DejaVu Sans","fontSize":11,"align":"center","baseline":"middle"},
 "encoding":{"x":{"field":"i","type":"quantitative","title":null},"y":{"field":"p","type":"quantitative","title":null},"text":{"field":"t"},
  "color":{"field":"s","type":"nominal","legend":null}}},
{"data":{"name":"levels"},"mark":{"type":"tick","orient":"horizontal","size":41,"thickness":11,"color":"#4169E1","opacity":1},
 "encoding":{"x":{"datum":417,"type":"quantitative"},"y":{"field":"p","type":"quantitative","title":null}}},
{"data":{"name":"levels"},"mark":{"type":"text","font":"Liberation Sans","fontSize":9.5,"color":"#FFFFFF","align":"center","baseline":"middle"},
 "encoding":{"x":{"datum":417,"type":"quantitative"},"y":{"field":"p","type":"quantitative","title":null},"text":{"field":"p","type":"quantitative","format":".5f"}}},
{"data":{"values":[{"p":1.08792}]},"mark":{"type":"tick","orient":"horizontal","size":41,"thickness":11,"color":"#000000","opacity":1},
 "encoding":{"x":{"datum":417,"type":"quantitative"},"y":{"field":"p","type":"quantitative","title":null}}},
{"data":{"values":[{"p":1.08792}]},"mark":{"type":"text","font":"Liberation Sans","fontSize":9.5,"color":"#FFFFFF","align":"center","baseline":"middle"},
 "encoding":{"x":{"datum":417,"type":"quantitative"},"y":{"field":"p","type":"quantitative","title":null},"text":{"field":"p","type":"quantitative","format":".5f"}}}
]
}
